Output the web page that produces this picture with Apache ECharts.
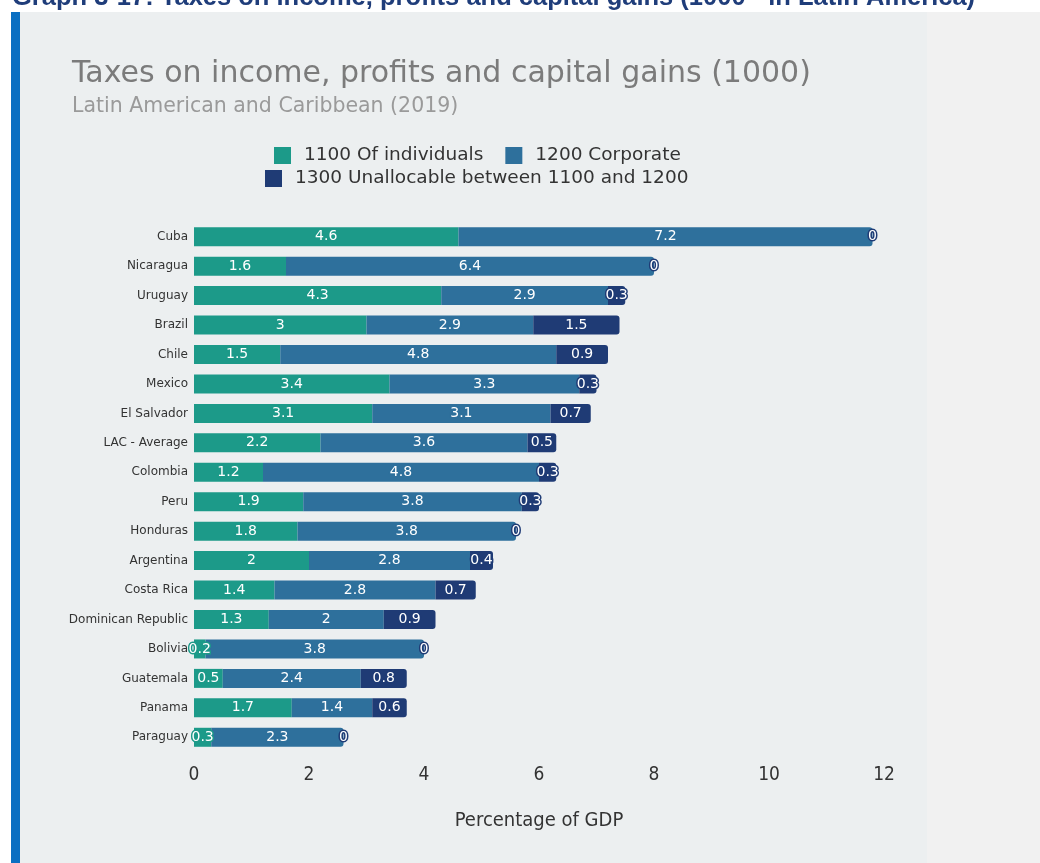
<!DOCTYPE html>
<html>
<head>
<meta charset="utf-8">
<script src="https://cdn.jsdelivr.net/npm/echarts@6/dist/echarts.min.js"></script>
<style>
  html, body { margin: 0; padding: 0; background: #ffffff; }
  #chart { width: 1040px; height: 863px; }
</style>
</head>
<body>
<div id="chart"></div>
<script>
// Countries, top to bottom
const countries = [
  'Cuba', 'Nicaragua', 'Uruguay', 'Brazil', 'Chile', 'Mexico', 'El Salvador',
  'LAC - Average', 'Colombia', 'Peru', 'Honduras', 'Argentina', 'Costa Rica',
  'Dominican Republic', 'Bolivia', 'Guatemala', 'Panama', 'Paraguay'
];
// Percentage of GDP, 2019
const individuals = [4.6, 1.6, 4.3, 3, 1.5, 3.4, 3.1, 2.2, 1.2, 1.9, 1.8, 2, 1.4, 1.3, 0.2, 0.5, 1.7, 0.3];
const corporate   = [7.2, 6.4, 2.9, 2.9, 4.8, 3.3, 3.1, 3.6, 4.8, 3.8, 3.8, 2.8, 2.8, 2, 3.8, 2.4, 1.4, 2.3];
const unallocable = [0, 0, 0.3, 1.5, 0.9, 0.3, 0.7, 0.5, 0.3, 0.3, 0, 0.4, 0.7, 0.9, 0, 0.8, 0.6, 0];
const xTicks = [0, 2, 4, 6, 8, 10, 12];

const seriesNames = ['1100 Of individuals', '1200 Corporate', '1300 Unallocable between 1100 and 1200'];
const colors = ['#1c9a89', '#2e709c', '#1f3b75'];

const chart = echarts.init(document.getElementById('chart'));

function segLabel(color) {
  return {
    show: true,
    position: 'inside',
    color: '#ffffff',
    fontSize: 14,
    fontFamily: 'DejaVu Sans',
    textBorderColor: color,
    textBorderWidth: 3,
    formatter: p => String(p.value)
  };
}

// round the right end of whichever segment closes each bar
const corporateData = corporate.map((v, i) => unallocable[i] === 0
  ? { value: v, itemStyle: { borderRadius: [0, 3, 3, 0] } }
  : v);

const legendText = { color: '#333333', fontSize: 18.5, fontFamily: 'DejaVu Sans', padding: [0, 0, 0, 8] };

const option = {
  backgroundColor: '#ffffff',
  animation: false,
  graphic: [
    { type: 'rect', z: -10, shape: { x: 20, y: 12, width: 907, height: 851 }, style: { fill: '#eceff0' } },
    { type: 'rect', z: -10, shape: { x: 927, y: 12, width: 113, height: 851 }, style: { fill: '#f1f1f1' } },
    { type: 'rect', z: -10, shape: { x: 11, y: 12, width: 9, height: 851 }, style: { fill: '#0a6fc2' } },
    {
      type: 'text', z: 10, left: 12, top: -15,
      style: {
        text: 'Graph 3-17: Taxes on income, profits and capital gains (1000 - in Latin America)',
        fill: '#1f3d7a',
        font: 'bold 25.5px "Liberation Sans", sans-serif'
      }
    }
  ],
  title: {
    text: 'Taxes on income, profits and capital gains (1000)',
    subtext: 'Latin American and Caribbean (2019)',
    left: 67,
    top: 54,
    itemGap: 7,
    textStyle: { color: '#7b7b7b', fontSize: 30, fontWeight: 'normal', fontFamily: 'DejaVu Sans' },
    subtextStyle: { color: '#9a9a9a', fontSize: 20.5, fontFamily: 'DejaVu Sans' }
  },
  legend: [
    {
      data: [seriesNames[0], seriesNames[1]],
      left: 269, top: 141,
      itemWidth: 17, itemHeight: 17, itemGap: 22,
      icon: 'rect',
      textStyle: legendText
    },
    {
      data: [seriesNames[2]],
      left: 260, top: 164,
      itemWidth: 17, itemHeight: 17,
      icon: 'rect',
      textStyle: legendText
    }
  ],
  grid: { left: 194, right: 156, top: 222, bottom: 111, containLabel: false },
  xAxis: {
    type: 'value',
    min: 0, max: 12, interval: 2,
    name: 'Percentage of GDP',
    nameLocation: 'middle',
    nameGap: 59,
    nameTextStyle: { color: '#333333', fontSize: 20, fontFamily: 'DejaVu Sans Condensed' },
    axisLine: { show: false },
    axisTick: { show: false },
    splitLine: { show: false },
    axisLabel: {
      color: '#333333', fontSize: 19, fontFamily: 'DejaVu Sans Condensed', margin: 14,
      formatter: v => xTicks.includes(v) ? String(v) : ''
    }
  },
  yAxis: {
    type: 'category',
    data: countries,
    inverse: true,
    axisLine: { show: false },
    axisTick: { show: false },
    axisLabel: { color: '#333333', fontSize: 12, fontFamily: 'DejaVu Sans', margin: 6 }
  },
  series: [
    {
      name: seriesNames[0], type: 'bar', stack: 'total', barWidth: 19,
      itemStyle: { color: colors[0] },
      label: segLabel(colors[0]),
      data: individuals
    },
    {
      name: seriesNames[1], type: 'bar', stack: 'total', barWidth: 19,
      itemStyle: { color: colors[1] },
      label: segLabel(colors[1]),
      data: corporateData
    },
    {
      name: seriesNames[2], type: 'bar', stack: 'total', barWidth: 19,
      itemStyle: { color: colors[2], borderRadius: [0, 3, 3, 0] },
      label: segLabel(colors[2]),
      data: unallocable
    }
  ]
};

chart.setOption(option);
</script>
</body>
</html>
